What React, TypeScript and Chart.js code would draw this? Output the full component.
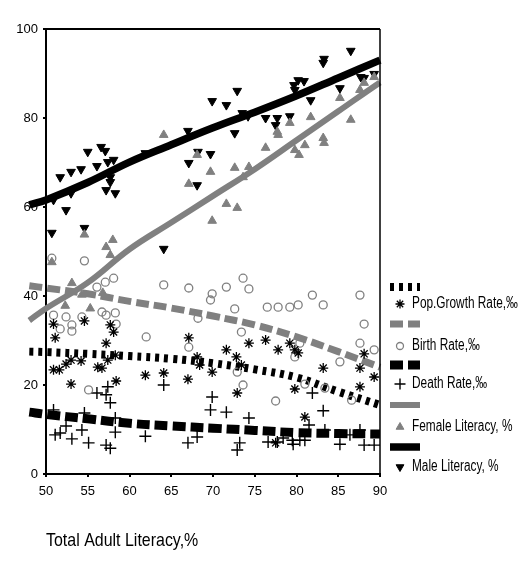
import { useEffect, useRef } from "react";
import { Chart, registerables } from "chart.js";
import { drawPoint } from "chart.js/helpers";

Chart.register(...registerables);

const FONT = "'Liberation Sans', Arial, sans-serif";
const GRAY = "#808080";

const xTickValues = [50, 55, 60, 65, 70, 75, 80, 85, 90];
const yTickValues = [0, 20, 40, 60, 80, 100];
const axisTitle = "Total Adult Literacy,%";

const fitX = [48, 50, 55, 60, 65, 70, 75, 80, 85, 90, 92];
const maleFit = [60.5, 61.6, 65.5, 70.1, 74, 77.8, 81.3, 85, 89, 93, 94.6];
const femaleFit = [34.5, 37.2, 43, 50.5, 56.5, 62.5, 68.5, 75, 81.5, 88, 90.3];
const birthFit = [42.3, 41.8, 40.5, 38.8, 37.3, 35.5, 33.5, 30.8, 27.5, 24, 22.5];
const popFit = [27.5, 27.4, 27, 26.5, 25.9, 24.9, 23.5, 21.7, 18.5, 15.5, 14.3];
const deathFit = [13.9, 13.4, 12.4, 11.4, 10.8, 10.3, 9.8, 9.3, 9.1, 9.0, 9.0];

const malePts: [number, number][] = [
  [50.7, 54.2], [52.4, 59.3], [50.9, 61.6], [51.7, 66.7], [53, 67.9], [53, 63.1], [54.2, 68.5],
  [54.6, 55.3], [55, 72.4], [56.1, 69.2], [56.6, 73.5], [57.1, 72.6], [57.4, 70.1], [58.1, 70.6],
  [57.7, 66.7], [57.7, 65.6], [57.2, 63.8], [58.3, 63.1], [61.9, 72.1], [64.1, 50.6], [67, 77.1],
  [67.1, 69.9], [68.1, 64.9], [68.2, 72.4], [69.7, 71.9], [69.9, 83.8], [71.6, 82.9], [72.9, 86.1],
  [72.6, 76.6], [73.5, 81.1], [74.2, 80.4], [76.3, 80], [77.7, 80], [77.5, 78.4], [79.2, 80.4],
  [79.7, 87.4], [80.2, 88.5], [80.9, 88.3], [79.8, 86.3], [81.7, 84], [83.2, 92.4], [83.3, 93.3],
  [85.2, 86.7], [86.5, 95.1], [87.7, 89.2], [88.1, 89], [89.3, 89.9],
];

const femalePts: [number, number][] = [
  [50.7, 47.6], [52.3, 37.8], [53.1, 42.9], [54.3, 40.3], [55.3, 37.2], [56.8, 40.7], [54.6, 53.8],
  [57.2, 51], [57.7, 49.2], [58, 52.6], [64.1, 76.2], [67.1, 65.2], [68.1, 71.7], [69.7, 67.9],
  [69.9, 56.9], [71.6, 60.7], [72.9, 59.8], [72.6, 68.8], [73.6, 66.7], [74.3, 69], [76.3, 73.3],
  [77.7, 76.9], [77.8, 76.2], [79.2, 78.9], [79.8, 72.8], [80.3, 71.7], [81, 73.9], [81.7, 80.2],
  [83.2, 75.5], [83.3, 74.4], [85.2, 84.5], [86.5, 79.6], [87.6, 86.3], [88.1, 87.9], [89.3, 89.2],
];

const birthPts: [number, number][] = [
  [50.7, 48.5], [50.9, 35.7], [51.7, 32.6], [52.4, 35.3], [53.1, 33.5], [53.1, 32.1], [54.3, 35.3],
  [54.6, 47.9], [55.1, 18.9], [56.1, 42], [56.7, 36.4], [57.2, 35.7], [57.1, 43.1], [58.1, 44],
  [58.3, 36.2], [58.4, 33.7], [62, 30.8], [64.1, 42.5], [67.1, 41.8], [67.1, 28.5], [68.2, 35],
  [69.7, 39.1], [69.9, 40.5], [71.6, 42], [72.6, 37.1], [72.9, 22.9], [73.4, 31.9], [73.6, 44],
  [73.6, 20], [74.3, 41.6], [76.5, 37.5], [77.5, 16.4], [77.8, 37.5], [79.2, 37.5], [79.8, 26.3],
  [80.2, 38], [80.4, 29.4], [81, 20.2], [81.9, 40.2], [83.2, 38], [83.4, 19.3], [85.2, 25.2],
  [86.6, 16.6], [87.6, 40.2], [87.6, 29.4], [88.1, 33.7], [89.3, 27.9],
];

const popPts: [number, number][] = [
  [50.9, 33.7], [51.1, 30.6], [50.9, 23.4], [51.6, 23.4], [52.4, 24.7], [53, 25.6], [53, 20.2],
  [54.2, 25.4], [54.6, 34.4], [56.2, 24], [56.7, 23.8], [57.2, 29.4], [57.4, 25.6], [57.7, 33.5],
  [58.1, 31.9], [58.3, 26.7], [58.4, 20.9], [61.9, 22.2], [64.1, 22.7], [67.1, 30.6], [67, 21.3],
  [68.1, 26.3], [68.4, 24.5], [69.9, 22.9], [71.6, 27.9], [72.8, 26.3], [72.9, 18.2], [73.4, 24.5],
  [74.3, 29.4], [76.3, 30.1], [77.5, 7], [77.8, 27.9], [79.2, 29.4], [79.8, 27.9], [80.2, 27.2],
  [79.8, 19.1], [81, 12.8], [83.2, 23.8], [87.6, 23.8], [87.6, 19.6], [88.1, 27], [89.3, 21.8],
];

const deathPts: [number, number][] = [
  [50.9, 14.4], [51.1, 8.8], [51.7, 9.2], [52.4, 10.8], [53.1, 7.9], [54.3, 9.9], [54.6, 13.7],
  [55.1, 7], [56.1, 18.2], [57.2, 17.8], [57.4, 19.6], [57.7, 16], [57.2, 6.5], [57.7, 5.8],
  [58.3, 12.6], [58.3, 9.4], [61.9, 8.5], [64.1, 20], [67, 7], [68.1, 8.3], [69.7, 14.4],
  [69.9, 17.3], [71.6, 13.9], [72.9, 5.4], [73.2, 7], [74.3, 12.6], [76.6, 7.2], [77.7, 7.2],
  [78.4, 8.1], [79.5, 7.6], [79.6, 6.7], [80.4, 7.6], [81, 7.6], [81.5, 11], [81.9, 18.2],
  [83.2, 14.2], [83.4, 9.9], [85.2, 6.7], [86.4, 8.8], [87.6, 9.9], [88.1, 6.5], [89.3, 6.5],
];

const legendLabels = [
  "Pop.Growth Rate,\u2030",
  "Birth Rate,\u2030",
  "Death Rate,\u2030",
  "Female Literacy, %",
  "Male Literacy, %",
];

const toXY = (pts: [number, number][]) => pts.map(([x, y]) => ({ x, y }));
const fitXY = (ys: number[]) => fitX.map((x, i) => ({ x, y: ys[i] }));

type Series = {
  label: string;
  pts: [number, number][];
  fit: number[];
  color: string;
  lineWidth: number;
  dash: number[];
  pointStyle: string;
  rotation: number;
  radius: number;
  filled: boolean;
  pointBorder: number;
};

const series: Series[] = [
  { label: legendLabels[0], pts: popPts, fit: popFit, color: "#000", lineWidth: 8, dash: [4, 5], pointStyle: "star", rotation: 0, radius: 5, filled: false, pointBorder: 1.3 },
  { label: legendLabels[1], pts: birthPts, fit: birthFit, color: GRAY, lineWidth: 7, dash: [13, 5], pointStyle: "circle", rotation: 0, radius: 4, filled: false, pointBorder: 1.3 },
  { label: legendLabels[2], pts: deathPts, fit: deathFit, color: "#000", lineWidth: 9, dash: [13, 5], pointStyle: "cross", rotation: 0, radius: 6, filled: false, pointBorder: 1.4 },
  { label: legendLabels[3], pts: femalePts, fit: femaleFit, color: GRAY, lineWidth: 6, dash: [], pointStyle: "triangle", rotation: 0, radius: 5, filled: true, pointBorder: 1 },
  { label: legendLabels[4], pts: malePts, fit: maleFit, color: "#000", lineWidth: 7.5, dash: [], pointStyle: "triangle", rotation: 180, radius: 5, filled: true, pointBorder: 1 },
];

const legendRows = [
  { lineY: 287, markerY: 304 },
  { lineY: 324, markerY: 346 },
  { lineY: 365, markerY: 384 },
  { lineY: 405, markerY: 427 },
  { lineY: 447, markerY: 467 },
];

function narrowText(ctx: CanvasRenderingContext2D, text: string, x: number, y: number, size: number, sx: number) {
  ctx.save();
  ctx.font = `${size}px ${FONT}`;
  ctx.translate(x, y);
  ctx.scale(sx, 1);
  ctx.fillText(text, 0, 0);
  ctx.restore();
}

const framePlugin = {
  id: "frameLegend",
  afterDraw(chart: any) {
    const ctx: CanvasRenderingContext2D = chart.ctx;
    const { left, right, top, bottom } = chart.chartArea;
    ctx.save();
    ctx.strokeStyle = "#000";
    ctx.setLineDash([]);
    ctx.lineWidth = 2;
    ctx.beginPath();
    ctx.moveTo(left, top);
    ctx.lineTo(right, top);
    ctx.stroke();
    ctx.lineWidth = 1.5;
    ctx.beginPath();
    ctx.moveTo(right, top);
    ctx.lineTo(right, bottom);
    ctx.stroke();

    series.forEach((s, i) => {
      const row = legendRows[i];
      ctx.save();
      ctx.strokeStyle = s.color;
      ctx.lineWidth = s.lineWidth;
      ctx.setLineDash(s.dash);
      ctx.lineCap = "butt";
      ctx.beginPath();
      ctx.moveTo(390, row.lineY);
      ctx.lineTo(420, row.lineY);
      ctx.stroke();
      ctx.restore();

      ctx.save();
      ctx.fillStyle = s.filled ? s.color : "rgba(0,0,0,0)";
      ctx.strokeStyle = s.color;
      ctx.lineWidth = s.pointBorder;
      drawPoint(ctx, { pointStyle: s.pointStyle as any, rotation: s.rotation, radius: s.radius - 0.5, borderWidth: s.pointBorder }, 400, row.markerY);
      ctx.restore();

      ctx.fillStyle = "#000";
      ctx.textBaseline = "middle";
      ctx.textAlign = "left";
      narrowText(ctx, s.label, 412, row.markerY, 16, 0.74);
    });

    ctx.fillStyle = "#000";
    ctx.textBaseline = "alphabetic";
    ctx.textAlign = "left";
    narrowText(ctx, axisTitle, 46, 546, 19, 0.84);
    ctx.restore();
  },
};

export default function App() {
  const ref = useRef<HTMLCanvasElement | null>(null);

  useEffect(() => {
    if (!ref.current) return;
    const datasets: any[] = [];
    series.forEach((s) => {
      datasets.push({
        type: "scatter",
        label: s.label + " pts",
        data: toXY(s.pts),
        pointStyle: s.pointStyle,
        rotation: s.rotation,
        pointRadius: s.radius,
        backgroundColor: s.filled ? s.color : "rgba(0,0,0,0)",
        borderColor: s.color,
        borderWidth: s.pointBorder,
        pointHoverRadius: s.radius,
      });
    });
    series.forEach((s) => {
      datasets.push({
        type: "line",
        label: s.label + " fit",
        data: fitXY(s.fit),
        borderColor: s.color,
        borderWidth: s.lineWidth,
        borderDash: s.dash,
        borderCapStyle: "butt",
        pointRadius: 0,
        fill: false,
        tension: 0.4,
        clip: false,
      });
    });

    const chart = new Chart(ref.current, {
      type: "scatter",
      data: { datasets },
      options: {
        responsive: false,
        animation: false,
        devicePixelRatio: 1,
        layout: { padding: { top: 29, right: 149, bottom: 60, left: 0 } },
        plugins: { legend: { display: false }, tooltip: { enabled: false } },
        scales: {
          x: {
            type: "linear",
            min: 50,
            max: 90,
            afterBuildTicks: (scale: any) => {
              scale.ticks = xTickValues.map((v) => ({ value: v }));
            },
            afterFit: (scale: any) => {
              scale.height = 30;
            },
            ticks: { color: "#000", font: { family: FONT, size: 13 }, padding: 7 },
            grid: { display: true, drawOnChartArea: false, drawTicks: true, tickLength: 3, color: "#000", lineWidth: 2 },
            border: { display: true, color: "#000", width: 2 },
          },
          y: {
            type: "linear",
            min: 0,
            max: 100,
            afterBuildTicks: (scale: any) => {
              scale.ticks = yTickValues.map((v) => ({ value: v }));
            },
            afterFit: (scale: any) => {
              scale.width = 46;
            },
            ticks: { color: "#000", font: { family: FONT, size: 13 }, padding: 5 },
            grid: { display: true, drawOnChartArea: false, drawTicks: true, tickLength: 3, color: "#000", lineWidth: 2 },
            border: { display: true, color: "#000", width: 2 },
          },
        },
      },
      plugins: [framePlugin],
    });
    return () => chart.destroy();
  }, []);

  return (
    <div style={{ position: "fixed", left: 0, top: 0, width: 529, height: 564, background: "#fff" }}>
      <canvas ref={ref} width={529} height={564} style={{ width: 529, height: 564 }} />
    </div>
  );
}
